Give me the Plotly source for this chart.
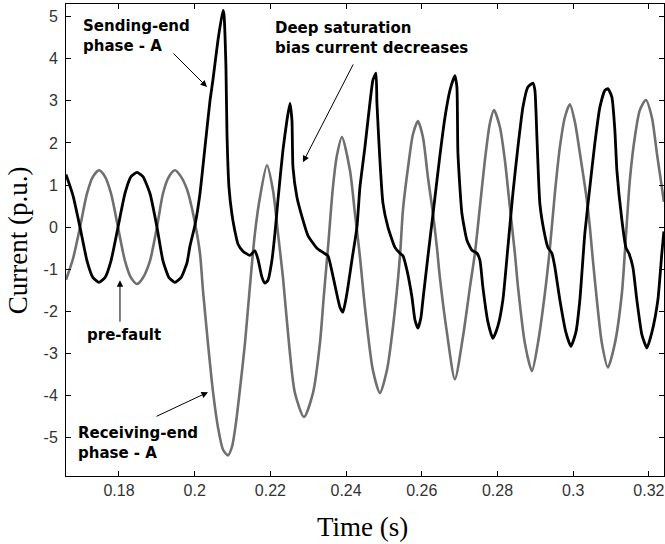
import plotly.graph_objects as go

# ---- data ----
time_sending = [
    0.16600, 0.16785, 0.16970, 0.17155, 0.17313, 0.17472, 0.17630, 0.17789, 0.17974, 0.18158,
    0.18317, 0.18475, 0.18634, 0.18819, 0.19004, 0.19162, 0.19321, 0.19479, 0.19638, 0.19796,
    0.19875, 0.20008, 0.20140, 0.20272, 0.20404, 0.20483, 0.20615, 0.20747, 0.20774, 0.20826,
    0.20853, 0.20906, 0.20985, 0.21064, 0.21143, 0.21275, 0.21460, 0.21592, 0.21672, 0.21777,
    0.21857, 0.21936, 0.22042, 0.22121, 0.22200, 0.22332, 0.22438, 0.22517, 0.22570, 0.22596,
    0.22702, 0.22834, 0.22993, 0.23230, 0.23389, 0.23521, 0.23626, 0.23758, 0.23838, 0.23917,
    0.24023, 0.24155, 0.24287, 0.24366, 0.24498, 0.24630, 0.24709, 0.24789, 0.24815, 0.24894,
    0.24974, 0.25106, 0.25291, 0.25423, 0.25502, 0.25608, 0.25740, 0.25819, 0.25898, 0.25977,
    0.26030, 0.26162, 0.26295, 0.26479, 0.26611, 0.26744, 0.26875, 0.26928, 0.26955, 0.27060,
    0.27193, 0.27325, 0.27457, 0.27536, 0.27615, 0.27747, 0.27879, 0.28011, 0.28143, 0.28275,
    0.28408, 0.28540, 0.28672, 0.28804, 0.28936, 0.28989, 0.29042, 0.29121, 0.29253, 0.29332,
    0.29438, 0.29517, 0.29649, 0.29808, 0.29940, 0.30071, 0.30177, 0.30309, 0.30441, 0.30574,
    0.30706, 0.30838, 0.30917, 0.31023, 0.31102, 0.31155, 0.31287, 0.31393, 0.31472, 0.31578,
    0.31683, 0.31815, 0.31947, 0.32079, 0.32238, 0.32343, 0.32396,
]
current_sending = [
    1.25, 0.75, 0.00, -0.80, -1.20, -1.31, -1.20, -0.80, 0.00, 0.80,
    1.20, 1.30, 1.20, 0.80, 0.00, -0.80, -1.20, -1.31, -1.20, -0.85,
    -0.45, 0.05, 0.80, 1.90, 3.00, 3.50, 4.44, 5.15, 5.05, 3.80,
    2.23, 0.95, 0.30, -0.10, -0.40, -0.57, -0.67, -0.56, -0.76, -1.19,
    -1.33, -1.26, -0.78, -0.14, 0.64, 1.83, 2.54, 2.94, 2.54, 1.43,
    0.71, 0.25, -0.20, -0.50, -0.60, -0.68, -1.05, -1.60, -1.90, -2.02,
    -1.57, -0.78, 0.00, 0.95, 1.90, 2.95, 3.49, 3.66, 2.95, 1.59,
    0.57, 0.00, -0.48, -0.62, -0.68, -1.02, -1.66, -2.20, -2.40, -2.15,
    -1.73, -0.70, 0.30, 1.70, 2.60, 3.25, 3.60, 3.33, 1.76, 0.33,
    -0.31, -0.55, -0.62, -0.78, -1.43, -2.25, -2.64, -2.35, -1.73, -0.48,
    0.81, 1.90, 2.85, 3.33, 3.42, 3.25, 2.14, 0.55, -0.20, -0.48,
    -0.62, -0.95, -1.73, -2.50, -2.83, -2.50, -1.73, -0.14, 0.95, 2.00,
    2.85, 3.25, 3.29, 3.09, 2.30, 1.35, 0.17, -0.48, -0.62, -0.95,
    -1.73, -2.55, -2.87, -2.50, -1.73, -0.62, -0.10,
]

time_receiving = [
    0.16600, 0.16785, 0.16970, 0.17155, 0.17313, 0.17472, 0.17630, 0.17789, 0.17974, 0.18158,
    0.18317, 0.18475, 0.18634, 0.18819, 0.19004, 0.19162, 0.19321, 0.19479, 0.19638, 0.19796,
    0.19875, 0.20008, 0.20140, 0.20219, 0.20351, 0.20483, 0.20615, 0.20747, 0.20879, 0.20985,
    0.21090, 0.21196, 0.21328, 0.21460, 0.21592, 0.21725, 0.21909, 0.22068, 0.22200, 0.22332,
    0.22464, 0.22649, 0.22887, 0.23125, 0.23309, 0.23415, 0.23521, 0.23653, 0.23758, 0.23891,
    0.24102, 0.24234, 0.24366, 0.24498, 0.24709, 0.24894, 0.25079, 0.25238, 0.25423, 0.25502,
    0.25634, 0.25766, 0.25898, 0.26030, 0.26162, 0.26295, 0.26400, 0.26479, 0.26664, 0.26875,
    0.27087, 0.27272, 0.27404, 0.27536, 0.27668, 0.27800, 0.27906, 0.28064, 0.28196, 0.28328,
    0.28460, 0.28540, 0.28725, 0.28910, 0.29068, 0.29253, 0.29385, 0.29517, 0.29649, 0.29781,
    0.29913, 0.30045, 0.30177, 0.30362, 0.30441, 0.30521, 0.30626, 0.30759, 0.30917, 0.31102,
    0.31287, 0.31366, 0.31498, 0.31630, 0.31762, 0.31921, 0.32079, 0.32211, 0.32343, 0.32396,
]
current_receiving = [
    -1.25, -0.75, 0.00, 0.80, 1.20, 1.35, 1.20, 0.80, 0.00, -0.80,
    -1.20, -1.35, -1.20, -0.80, 0.00, 0.80, 1.20, 1.35, 1.20, 0.90,
    0.65, 0.10, -0.62, -1.50, -2.76, -3.90, -4.75, -5.28, -5.42, -5.22,
    -4.65, -3.85, -2.76, -1.40, -0.14, 0.71, 1.47, 0.88, -0.14, -1.19,
    -2.50, -3.94, -4.51, -3.94, -2.76, -1.60, -0.50, 0.95, 1.70, 2.14,
    1.35, 0.33, -0.70, -1.90, -3.40, -3.94, -3.40, -2.38, -0.70, 0.40,
    1.40, 2.20, 2.52, 2.14, 1.19, 0.33, -0.48, -1.20, -2.50, -3.61,
    -2.61, -1.43, -0.62, 0.48, 1.59, 2.47, 2.78, 2.38, 1.59, 0.48,
    -0.62, -1.40, -2.76, -3.42, -2.76, -1.57, -0.50, 0.81, 1.90, 2.61,
    2.92, 2.50, 1.76, 0.64, 0.00, -0.78, -1.73, -2.76, -3.33, -2.76,
    -1.57, -0.60, 1.12, 2.14, 2.78, 3.02, 2.61, 1.76, 0.95, 0.60,
]

x_tick_values = [0.18, 0.20, 0.22, 0.24, 0.26, 0.28, 0.30, 0.32]
x_tick_labels = ["0.18", "0.2", "0.22", "0.24", "0.26", "0.28", "0.3", "0.32"]
y_tick_values = [-5, -4, -3, -2, -1, 0, 1, 2, 3, 4, 5]
y_tick_labels = ["-5", "-4", "-3", "-2", "-1", "0", "1", "2", "3", "4", "5"]

fig = go.Figure()
fig.add_trace(go.Scatter(
    x=time_receiving, y=current_receiving, mode="lines",
    line=dict(color="#6f6f6f", width=2.6, shape="spline", smoothing=0.7),
    showlegend=False, hoverinfo="skip",
))
fig.add_trace(go.Scatter(
    x=time_sending, y=current_sending, mode="lines",
    line=dict(color="#000000", width=2.8, shape="spline", smoothing=0.5),
    showlegend=False, hoverinfo="skip",
))

label_font = dict(family="DejaVu Sans", size=15, color="#000000")

def text_note(x, y, text, xanchor="left"):
    fig.add_annotation(x=x, y=y, xref="x", yref="y", text=text, showarrow=False,
                       xanchor=xanchor, yanchor="middle", align="left", font=label_font)

def arrow(xh, yh, xt, yt):
    fig.add_annotation(x=xh, y=yh, ax=xt, ay=yt, xref="x", yref="y", axref="x", ayref="y",
                       text="", showarrow=True, arrowhead=2, arrowsize=1.3, arrowwidth=1,
                       arrowcolor="#000000")

text_note(0.16996, 4.53, "<b>Sending-end<br>phase - A</b>")
arrow(0.20325, 3.33, 0.19400, 4.16)
text_note(0.22068, 4.50, "<b>Deep saturation<br>bias current decreases</b>")
arrow(0.22860, 1.54, 0.24208, 3.90)
text_note(0.18145, -2.57, "<b>pre-fault</b>", xanchor="center")
arrow(0.18026, -1.26, 0.18026, -2.28)
text_note(0.16864, -5.12, "<b>Receiving-end<br>phase - A</b>")
arrow(0.20351, -3.92, 0.18951, -4.51)

fig.add_annotation(x=0.495, y=-0.108, xref="paper", yref="paper", text="Time (s)",
                   showarrow=False, xanchor="center", yanchor="middle",
                   font=dict(family="Liberation Serif", size=27, color="#000000"))
fig.add_annotation(x=-0.08, y=0.5, xref="paper", yref="paper", text="Current (p.u.)",
                   showarrow=False, xanchor="center", yanchor="middle", textangle=-90,
                   font=dict(family="Liberation Serif", size=27, color="#000000"))

axis_common = dict(showgrid=False, zeroline=False, showline=True, linecolor="#000000",
                   linewidth=1, mirror="ticks", ticks="inside", ticklen=5, tickwidth=1,
                   tickcolor="#000000",
                   tickfont=dict(family="Liberation Sans", size=16, color="#333333"))

fig.update_xaxes(range=[0.166, 0.324], tickmode="array", tickvals=x_tick_values,
                 ticktext=x_tick_labels, **axis_common)
fig.update_yaxes(range=[-5.91, 5.3], tickmode="array", tickvals=y_tick_values,
                 ticktext=y_tick_labels, ticklabelstandoff=4, **axis_common)

fig.update_layout(width=665, height=544, margin=dict(l=66, r=1, t=4, b=68),
                  paper_bgcolor="#ffffff", plot_bgcolor="#ffffff")

fig.write_html("out.html")
